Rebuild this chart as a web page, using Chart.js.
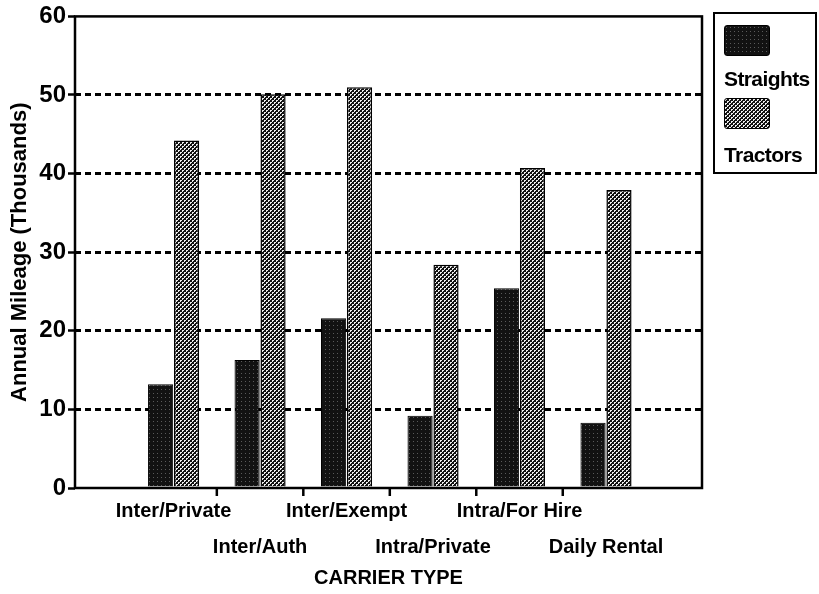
<!DOCTYPE html>
<html>
<head>
<meta charset="utf-8">
<script src="https://cdn.jsdelivr.net/npm/chart.js@4/dist/chart.umd.min.js"></script>
<style>
  html, body { margin: 0; padding: 0; background: #fff; }
  #wrap { position: relative; width: 819px; height: 594px; }
  #legend {
    position: absolute; left: 713px; top: 12px; width: 104px; height: 162px;
    border: 2px solid #000; box-sizing: border-box;
    font-family: "Liberation Sans", Arial, sans-serif; font-size: 21px; font-weight: bold; color: #000;
  }
  .sw { position: absolute; left: 9px; width: 46px; height: 31px; border: 1px solid #000; border-radius: 3px; box-sizing: border-box; }
  .lbl { position: absolute; left: 9px; line-height: 22px; letter-spacing: -0.6px; }
</style>
</head>
<body>
<div id="wrap">
  <canvas id="chart" width="819" height="594"></canvas>
  <div id="legend">
    <div class="sw" id="sw1" style="top:11px"></div>
    <div class="lbl" style="top:54px">Straights</div>
    <div class="sw" id="sw2" style="top:84px"></div>
    <div class="lbl" style="top:130px">Tractors</div>
  </div>
</div>
<script>
const categories = ['Inter/Private', 'Inter/Auth', 'Inter/Exempt', 'Intra/Private', 'Intra/For Hire', 'Daily Rental'];
const straights = [13.2, 16.3, 21.6, 9.2, 25.4, 8.3];
const tractors = [44.2, 50.1, 51.0, 28.4, 40.7, 37.9];
const yTicks = [0, 10, 20, 30, 40, 50, 60];

const FONT = '"Liberation Sans", Arial, sans-serif';

// little tiles for the hatched fills
function tile(kind) {
  const c = document.createElement('canvas');
  c.width = 4; c.height = 4;
  const g = c.getContext('2d');
  if (kind === 'dark') {
    g.fillStyle = '#121212'; g.fillRect(0, 0, 4, 4);
    g.fillStyle = '#5a5a5a'; g.fillRect(1, 1, 1, 1);
  } else {
    g.fillStyle = '#111'; g.fillRect(0, 0, 4, 4);
    g.fillStyle = '#eee';
    g.fillRect(0, 0, 2, 2); g.fillRect(2, 2, 2, 2);
    g.fillStyle = '#111'; g.fillRect(1, 1, 1, 1); g.fillRect(3, 3, 1, 1);
  }
  return c;
}
const darkTile = tile('dark');
const lightTile = tile('light');
const ctx = document.getElementById('chart').getContext('2d');
const darkFill = ctx.createPattern(darkTile, 'repeat');
const lightFill = ctx.createPattern(lightTile, 'repeat');
document.getElementById('sw1').style.background = `url(${darkTile.toDataURL()})`;
document.getElementById('sw2').style.background = `url(${lightTile.toDataURL()})`;

const boundaries = categories.slice(1).map((_, i) => i + 0.5);

const framePlugin = {
  id: 'frame',
  afterDatasetsDraw(chart) {
    const { ctx, chartArea: a, scales: { x } } = chart;
    ctx.save();
    ctx.strokeStyle = '#000';
    ctx.lineWidth = 2.5;
    ctx.strokeRect(a.left, a.top, a.right - a.left, a.bottom - a.top);
    ctx.beginPath();
    boundaries.forEach(v => {
      const px = x.getPixelForValue(v);
      ctx.moveTo(px, a.bottom);
      ctx.lineTo(px, a.bottom + 8);
    });
    ctx.stroke();
    ctx.restore();
  }
};

new Chart(ctx, {
  type: 'bar',
  data: {
    datasets: [
      { label: 'Straights', data: categories.map((c, i) => ({ x: i, y: straights[i] })), backgroundColor: darkFill, borderColor: '#000', borderWidth: 1 },
      { label: 'Tractors', data: categories.map((c, i) => ({ x: i, y: tractors[i] })), backgroundColor: lightFill, borderColor: '#000', borderWidth: 1.5 }
    ]
  },
  options: {
    responsive: false,
    animation: false,
    events: [],
    layout: { padding: { top: 13, right: 117, left: 0, bottom: 0 } },
    datasets: { bar: { categoryPercentage: 0.6, barPercentage: 0.97 } },
    plugins: { legend: { display: false }, tooltip: { enabled: false } },
    scales: {
      x: {
        type: 'linear',
        offset: false,
        min: -1.14, max: 6.11,
        afterBuildTicks: s => { s.ticks = categories.map((c, i) => ({ value: i })); },
        afterFit: s => { s.height = 106; },
        grid: { display: false, drawTicks: false },
        border: { display: false },
        ticks: {
          autoSkip: false, maxRotation: 0, minRotation: 0, padding: 5, color: '#000',
          font: { family: FONT, size: 20, weight: 'bold', lineHeight: 1.8 },
          callback: v => (v % 2 === 0 ? [categories[v], ''] : ['', categories[v]])
        },
        title: { display: true, text: 'CARRIER TYPE', color: '#000', font: { family: FONT, size: 20, weight: 'bold', lineHeight: 1.2 }, padding: { top: 0, bottom: 4 } }
      },
      y: {
        min: 0, max: 60,
        afterBuildTicks: s => { s.ticks = yTicks.map(v => ({ value: v })); },
        afterFit: s => { s.width = 75; },
        grid: {
          color: c => (c.tick && (c.tick.value === 0 || c.tick.value === 60) ? 'rgba(0,0,0,0)' : '#000'),
          lineWidth: 3,
          drawTicks: true, tickLength: 7, tickColor: '#000', tickWidth: 2.5, tickBorderDash: []
        },
        border: { display: false, dash: [6, 4] },
        ticks: { padding: 2, color: '#000', font: { family: FONT, size: 24, weight: 'bold' } },
        title: { display: true, text: 'Annual Mileage (Thousands)', color: '#000', font: { family: FONT, size: 22, weight: 'bold', lineHeight: 1.2 }, padding: { top: 7, bottom: 0 } }
      }
    }
  },
  plugins: [framePlugin]
});
</script>
</body>
</html>
